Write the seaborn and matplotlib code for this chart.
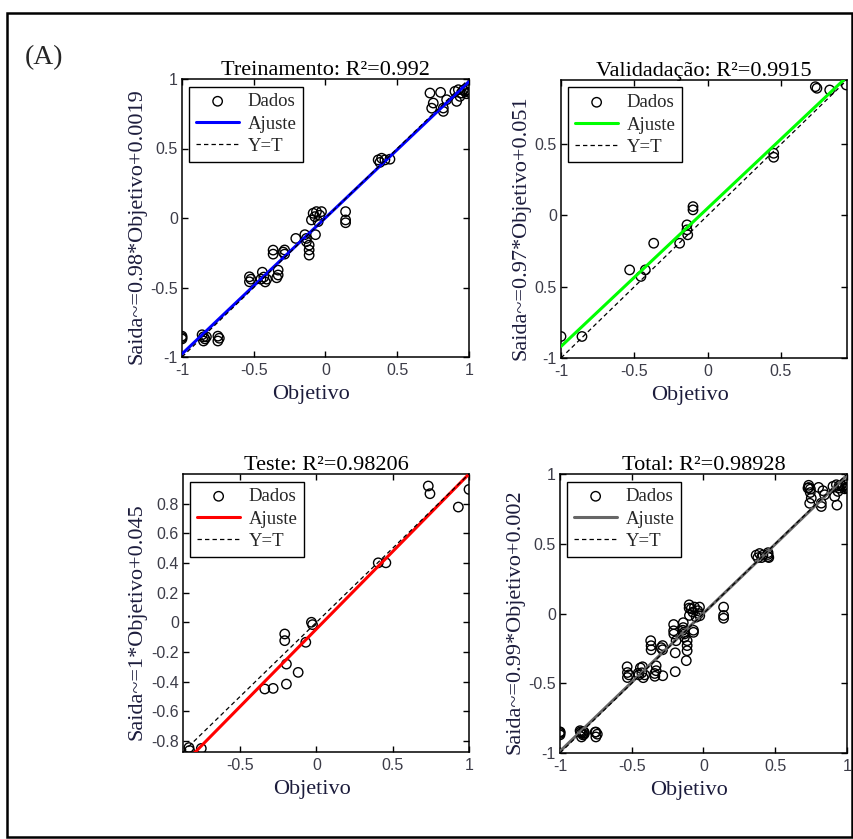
import numpy as np
import pandas as pd
import matplotlib
matplotlib.use("Agg")
import matplotlib.pyplot as plt
import seaborn as sns
from matplotlib.patches import Rectangle

# ---------------- data ----------------
train_target = [-1, -1, -1, -0.86, -0.85, -0.84, -0.85, -0.83, -0.75, -0.75, -0.74,
                -0.53, -0.53, -0.52, -0.44, -0.43, -0.42, -0.45, -0.41, -0.365, -0.365,
                -0.33, -0.33, -0.34, -0.285, -0.285, -0.295, -0.207, -0.144, -0.133, -0.133,
                -0.114, -0.114, -0.114, -0.098, -0.086, -0.074, -0.063, -0.028, -0.051, -0.07, -0.04,
                0.14, 0.14, 0.14, 0.367, 0.391, 0.414, 0.449, 0.379,
                0.728, 0.74, 0.751, 0.802, 0.821, 0.821, 0.844,
                0.902, 0.926, 0.949, 0.972, 0.984, 1.0, 0.937, 0.914, 0.995, 0.96]
train_output = [-0.86, -0.87, -0.85, -0.84, -0.855, -0.87, -0.885, -0.855, -0.85, -0.885, -0.865,
                -0.423, -0.459, -0.44, -0.39, -0.425, -0.46, -0.44, -0.44, -0.231, -0.26,
                -0.375, -0.41, -0.43, -0.23, -0.26, -0.245, -0.147, -0.12, -0.147, -0.17,
                -0.195, -0.23, -0.267, -0.014, 0.034, 0.01, 0.046, 0.046, -0.026, -0.12, 0.02,
                0.046, -0.014, -0.034, 0.418, 0.43, 0.418, 0.423, 0.40,
                0.899, 0.79, 0.827, 0.904, 0.791, 0.767, 0.851,
                0.911, 0.923, 0.899, 0.911, 0.894, 0.904, 0.875, 0.839, 0.923, 0.92]

val_target = [-1.0, -0.857, -0.532, -0.455, -0.425, -0.368, -0.191, -0.141, -0.141, -0.136,
              -0.10, -0.10, 0.45, 0.45, 0.734, 0.745, 0.832, 0.945]
val_output = [-0.849, -0.849, -0.382, -0.428, -0.382, -0.195, -0.195, -0.066, -0.101, -0.136,
              0.062, 0.039, 0.436, 0.408, 0.903, 0.892, 0.88, 0.915]

test_target = [-0.836, -0.832, -0.755, -0.339, -0.284, -0.208, -0.208, -0.197, -0.197, -0.12,
               -0.07, -0.033, -0.026, 0.405, 0.455, 0.733, 0.744, 0.93, 1.0]
test_output = [-0.845, -0.865, -0.851, -0.45, -0.446, -0.079, -0.124, -0.282, -0.417, -0.338,
               -0.135, 0.0, -0.016, 0.401, 0.401, 0.919, 0.867, 0.777, 0.896]

total_target = train_target + val_target + test_target
total_output = train_output + val_output + test_output

titles = ["Treinamento: R²=0.992", "Validadação: R²=0.9915", "Teste: R²=0.98206", "Total: R²=0.98928"]
ylabels = ["Saida~=0.98*Objetivo+0.0019", "Saida~=0.97*Objetivo+0.051",
           "Saida~=1*Objetivo+0.045", "Saida~=0.99*Objetivo+0.002"]
fit_slopes = [0.98, 0.97, 1.045, 0.99]
fit_intercepts = [0.0019, 0.051, -0.045, 0.002]
fit_colors = ["#0000ff", "#00ff00", "#ff0000", "#666666"]
limits = [(-1, 1), (-1, 0.95), (-0.875, 1), (-1, 1)]
xticks = [[-1, -0.5, 0, 0.5, 1], [-1, -0.5, 0, 0.5], [-0.5, 0, 0.5, 1], [-1, -0.5, 0, 0.5, 1]]
xticklabels = [["-1", "-0.5", "0", "0.5", "1"], ["-1", "-0.5", "0", "0.5"],
               ["-0.5", "0", "0.5", "1"], ["-1", "-0.5", "0", "0.5", "1"]]
yticks = [[-1, -0.5, 0, 0.5, 1], [-1, -0.5, 0, 0.5],
          [-0.8, -0.6, -0.4, -0.2, 0, 0.2, 0.4, 0.6, 0.8], [-1, -0.5, 0, 0.5, 1]]
yticklabels = [["-1", "-0.5", "0", "0.5", "1"], ["-1", "0.5", "0", "0.5"],
               ["-0.8", "-0.6", "-0.4", "-0.2", "0", "0.2", "0.4", "0.6", "0.8"],
               ["-1", "-0.5", "0", "0.5", "1"]]
datasets = [(train_target, train_output), (val_target, val_output),
            (test_target, test_output), (total_target, total_output)]

# ---------------- style ----------------
sns.set_style("white")
plt.rcParams["font.family"] = ["Liberation Serif", "DejaVu Serif"]
plt.rcParams["axes.unicode_minus"] = False

W, H = 854, 839
fig = plt.figure(figsize=(W / 100, H / 100), dpi=100)

boxes_px = [(182, 79, 469, 357), (561, 80, 847, 358), (183, 474, 469, 752), (560, 474, 847, 753)]

serif = ["Liberation Serif", "DejaVu Serif"]
sans = ["Liberation Sans", "DejaVu Sans"]
tick_color = "#3c3c48"
label_color = "#1c1c3c"

for i in range(4):
    l, t, r, b = boxes_px[i]
    ax = fig.add_axes([l / W, 1 - b / H, (r - l) / W, (b - t) / H])
    tx, ty = datasets[i]
    df = pd.DataFrame({"Objetivo": tx, "Saida": ty})
    lo, hi = limits[i]

    sns.scatterplot(data=df, x="Objetivo", y="Saida", ax=ax, marker="o", s=46,
                    facecolors="none", edgecolor="black", linewidth=1.0, label="Dados",
                    zorder=2)
    line_df = pd.DataFrame({"x": [lo, hi]})
    line_df["fit"] = fit_slopes[i] * line_df["x"] + fit_intercepts[i]
    line_df["yt"] = line_df["x"]
    sns.lineplot(data=line_df, x="x", y="fit", ax=ax, color=fit_colors[i], linewidth=2.2,
                 label="Ajuste", zorder=3)
    sns.lineplot(data=line_df, x="x", y="yt", ax=ax, color="black", linewidth=0.9,
                 linestyle=(0, (3.5, 2.5)), label="Y=T", zorder=4)

    ax.set_xlim(lo, hi)
    ax.set_ylim(lo, hi)
    ax.set_xticks(xticks[i])
    ax.set_xticklabels(xticklabels[i])
    ax.set_yticks(yticks[i])
    ax.set_yticklabels(yticklabels[i])
    ax.tick_params(direction="in", length=4, width=1, top=True, right=True,
                   bottom=True, left=True, labelsize=11.5, colors="black",
                   labelcolor=tick_color)
    ax.tick_params(axis="x", pad=4)
    ax.tick_params(axis="y", pad=3)
    for lab in ax.get_xticklabels() + ax.get_yticklabels():
        lab.set_fontfamily(sans)
    for sp in ax.spines.values():
        sp.set_visible(True)
        sp.set_color("black")
        sp.set_linewidth(1.1)

    ax.set_title(titles[i], fontsize=16, family=serif, color="black", pad=3)
    ax.set_xlabel("Objetivo", fontsize=16, family=serif, color=label_color, labelpad=3)
    ax.xaxis.set_label_coords(0.45, -0.1)
    ax.set_ylabel(ylabels[i], fontsize=16, family=serif, color=label_color, labelpad=3)
    ax.yaxis.label.set_y(0.47)

    leg = ax.legend(loc="upper left", frameon=True, fancybox=False,
                    edgecolor="black", framealpha=1, borderpad=0.35, labelspacing=0.28,
                    handlelength=2.3, handletextpad=0.45, borderaxespad=0.4,
                    prop={"family": serif, "size": 13.5})
    leg.get_frame().set_linewidth(1.0)

fig.text(25 / W, 1 - 58 / H, "(A)", fontsize=20, family=serif, va="center", ha="left")
fig.patches.append(Rectangle((7 / W, 1 - 837 / H), 845 / W, 824 / H, transform=fig.transFigure,
                             fill=False, edgecolor="black", linewidth=1.8))

fig.savefig("out.png", dpi=100)
